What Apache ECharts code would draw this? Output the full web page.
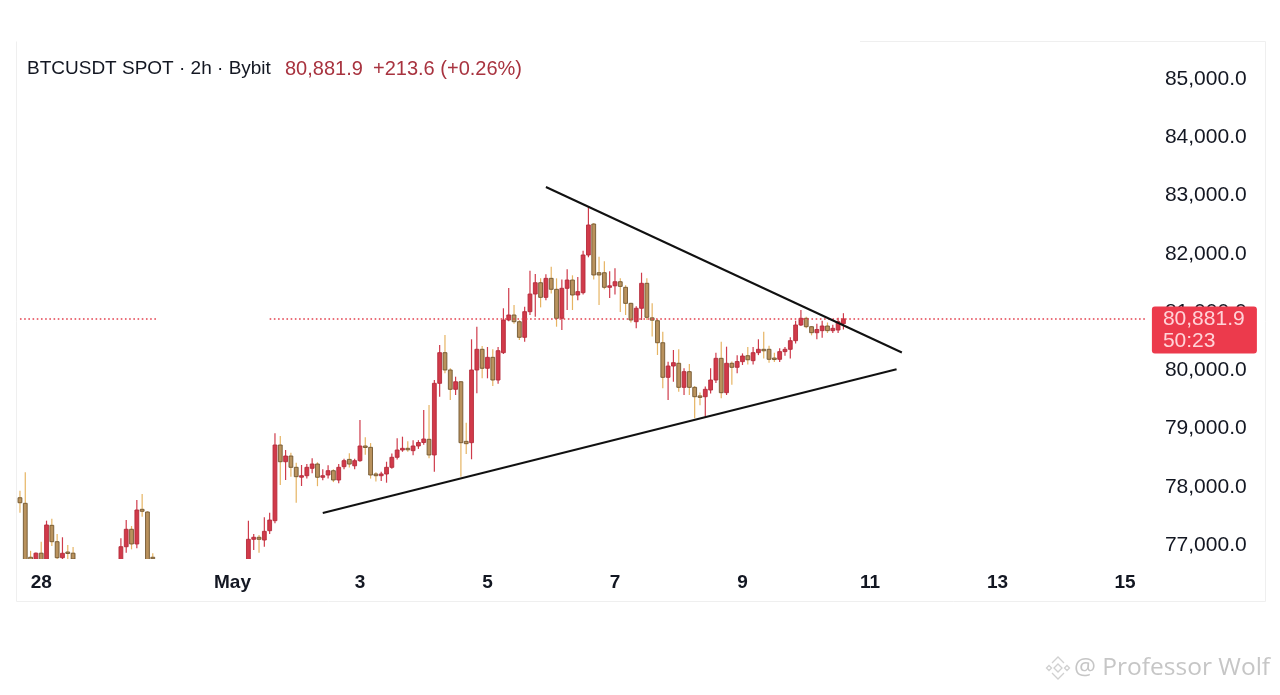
<!DOCTYPE html>
<html>
<head>
<meta charset="utf-8">
<script src="https://cdn.jsdelivr.net/npm/echarts@6/dist/echarts.min.js"></script>
<style>
html,body{margin:0;padding:0;background:#fff;}
#chart{width:1280px;height:695px;}
</style>
</head>
<body>
<div id="chart"></div>
<script>
const _ = null;
// 2h slots starting Apr 27 16:00
const START_UTC = Date.UTC(2026, 3, 27, 16);
const SLOT_COUNT = 213;
const tickLabels = {'4-28 0':'28','5-1 0':'May','5-3 0':'3','5-5 0':'5','5-7 0':'7','5-9 0':'9','5-11 0':'11','5-13 0':'13','5-15 0':'15'};
const yTickValues = [77000, 78000, 79000, 80000, 81000, 82000, 83000, 84000, 85000];

const opens = [77812,77716,76790,76720,76860,76700,77338,77057,76782,76880,76860,
  _,_,_,_,_,_,_,_,
  76700,76971,77270,77018,77613,77567,76790,
  _,_,_,_,_,_,_,_,_,_,_,_,_,_,_,_,_,
  76700,77098,77133,77086,77246,77418,78717,78430,78528,78334,78173,78190,78317,78391,78163,78202,78276,78116,78345,78470,78360,78448,78700,78677,78220,78190,78219,78334,78506,78631,78660,78620,78700,78760,78815,78546,
  79776,80302,80005,79673,79803,78780,78757,80005,80360,80034,80222,79833,80302,80863,80949,80834,80566,81006,81309,81503,81252,81578,81390,80892,81407,81549,81292,81332,81979,82511,81675,81675,81424,81450,81520,81424,81149,80834,81064,81493,80900,80851,80473,79879,80073,80120,79707,79976,79707,79560,79546,79661,79833,80205,79615,80120,80051,80148,80250,80165,80302,80360,80360,80210,80188,80320,80360,80508,80777,80892,80748,80645,80680,80760,80680,80691,80800];
const highs = [77932,78248,76900,76870,77057,77418,77452,77190,77133,77000,76966,
  _,_,_,_,_,_,_,_,
  77116,77429,77326,77773,77876,77580,76860,
  _,_,_,_,_,_,_,_,_,_,_,_,_,_,_,_,_,
  77417,77189,77170,77476,77555,78918,78871,78631,78586,78413,78374,78390,78489,78420,78300,78370,78300,78390,78480,78574,78480,79146,78850,78750,78250,78260,78430,78570,78832,78860,78780,78800,78800,79318,79404,79833,
  80434,80606,80034,79890,79810,79100,80532,80748,80417,80400,80360,80400,81064,81412,81120,80860,81092,81710,81652,81580,81650,81778,81578,81560,81733,81630,81600,82052,82809,82530,81950,81870,81700,81750,81580,81460,81160,81100,81675,81580,81150,80880,80662,80147,80348,80360,80034,80108,79730,79620,79720,80034,80302,80490,80405,80150,80260,80290,80400,80400,80532,80662,80420,80300,80380,80400,80566,80851,81035,80920,80760,80800,80850,80820,80780,80900,80980];
const lows = [77555,76600,76650,76650,76650,76600,76983,76740,76750,76750,76700,
  _,_,_,_,_,_,_,_,
  76650,76868,76926,76944,77486,76600,76700,
  _,_,_,_,_,_,_,_,_,_,_,_,_,_,_,_,_,
  76600,76914,76868,76971,77189,77373,78030,78116,78173,77726,78013,78140,78230,78010,78110,78140,78080,78060,78300,78330,78300,78430,78550,78140,78090,78100,78070,78310,78470,78600,78600,78540,78650,78720,78490,78260,
  79546,79948,79489,79575,78173,78562,78472,79605,79862,79862,79730,79770,80280,80840,80800,80520,80490,80950,80920,81080,81200,81320,80748,80691,81035,81035,81200,81300,81940,81560,81120,81390,81240,81300,81000,80950,80820,80720,80863,80863,80580,80262,79690,79489,79803,79632,79575,79575,79175,79400,79204,79600,79780,79518,79575,79750,79950,80090,80100,80100,80260,80200,80130,80140,80140,80250,80200,80460,80760,80720,80600,80532,80560,80640,80640,80640,80700];
const closes = [77726,76700,76740,76860,76720,77344,77057,76782,76858,76860,76760,
  _,_,_,_,_,_,_,_,
  76971,77270,77018,77601,77579,76700,76770,
  _,_,_,_,_,_,_,_,_,_,_,_,_,_,_,_,_,
  77098,77133,77098,77235,77429,78717,78430,78528,78334,78173,78190,78334,78391,78163,78190,78276,78116,78334,78448,78390,78448,78700,78680,78202,78190,78220,78334,78506,78631,78660,78640,78700,78760,78820,78546,79776,
  80302,80005,79673,79803,78757,78740,80005,80360,80034,80222,79833,80336,80863,80949,80834,80566,81006,81309,81503,81252,81578,81390,80892,81407,81549,81292,81350,81979,82494,81636,81636,81424,81450,81520,81440,81149,80863,81064,81493,80909,80860,80473,79879,80073,80130,79707,79976,79707,79546,79540,79673,79833,80205,79615,80120,80051,80150,80245,80180,80302,80360,80340,80188,80188,80320,80360,80508,80777,80892,80748,80645,80700,80760,80680,80720,80834,80881.9];

// trend lines: [slot index, price]
const upperTrend = [[99, 83146], [166, 80305]];
const lowerTrend = [[57, 77550], [165, 80016]];
const lastPrice = 80881.9;
const markerPrice = 77657.9;
// visible spans of the dotted last-price line (slot indexes)
const priceLineSpans = [[0, 26], [47, 212]];
const header = {symbol: 'BTCUSDT SPOT · 2h · Bybit', price: '80,881.9', change: '+213.6 (+0.26%)'};
const countdown = '50:23';

const categories = [];
for (let i = 0; i < SLOT_COUNT; i++) {
  const d = new Date(START_UTC + i * 7200000);
  categories.push((d.getUTCMonth() + 1) + '-' + d.getUTCDate() + ' ' + d.getUTCHours());
}
const candleData = [];
opens.forEach((o, i) => { if (o != null) candleData.push([i, o, closes[i], lows[i], highs[i]]); });

const fmt = v => Number(v).toLocaleString('en-US', {minimumFractionDigits: 1, maximumFractionDigits: 1});
const FONT = 'Liberation Sans, Arial, sans-serif';

const UP_FILL = '#d13a4a', UP_EDGE = '#b42b3b', UP_WICK = '#cf3b4b';
const DN_FILL = '#b9925d', DN_EDGE = '#72562f', DN_WICK = '#e6b463';

function renderCandle(params, api) {
  const x = api.value(0), o = api.value(1), c = api.value(2), l = api.value(3), h = api.value(4);
  const pO = api.coord([x, o]), pC = api.coord([x, c]), pL = api.coord([x, l]), pH = api.coord([x, h]);
  const bw = api.size([1, 0])[0] * 0.72;
  const up = c >= o;
  const top = Math.min(pO[1], pC[1]), bot = Math.max(pO[1], pC[1]);
  return {
    type: 'group',
    children: [
      {type: 'line', shape: {x1: pH[0], y1: pH[1], x2: pL[0], y2: pL[1]}, style: {stroke: up ? UP_WICK : DN_WICK, lineWidth: 1.2}},
      {type: 'rect', shape: {x: pO[0] - bw / 2, y: top, width: bw, height: Math.max(bot - top, 1.5)},
       style: {fill: up ? UP_FILL : DN_FILL, stroke: up ? UP_EDGE : DN_EDGE, lineWidth: 0.9}}
    ]
  };
}

const GRID = {left: 17.3, right: 131.1, top: 40, bottom: 136};
const chart = echarts.init(document.getElementById('chart'));
const priceLineData = priceLineSpans.map(s => [
  {coord: [s[0], lastPrice]},
  {coord: [s[1], lastPrice]}
]);
priceLineData.push({yAxis: markerPrice, lineStyle: {opacity: 0}, label: {
  show: true, position: 'end', distance: 3,
  formatter: () => fmt(markerPrice),
  backgroundColor: '#1f9a80', color: '#d2f7ee', fontSize: 21,
  fontFamily: FONT,
  padding: [2, 10, 1, 10], lineHeight: 20, borderRadius: 2
}});

const option = {
  backgroundColor: '#ffffff',
  animation: false,
  grid: GRID,
  xAxis: {
    type: 'category',
    data: categories,
    boundaryGap: true,
    axisLine: {show: false},
    axisTick: {show: false},
    splitLine: {show: false},
    axisLabel: {
      interval: (idx, val) => tickLabels[val] !== undefined,
      formatter: val => tickLabels[val] || '',
      color: '#131722', fontSize: 19, fontWeight: 'bold', fontFamily: FONT,
      margin: 14
    }
  },
  yAxis: {
    type: 'value',
    position: 'right',
    min: 76760, max: 85670,
    minInterval: 1000, maxInterval: 1000,
    axisLine: {show: false},
    axisTick: {show: false},
    splitLine: {show: false},
    axisLabel: {
      showMinLabel: false, showMaxLabel: false,
      formatter: v => (yTickValues.indexOf(v) >= 0 ? fmt(v) : ''),
      color: '#131722', fontSize: 21, fontFamily: FONT,
      margin: 16
    }
  },
  series: [
    {
      type: 'custom',
      renderItem: renderCandle,
      data: candleData,
      encode: {x: 0, y: [1, 2, 3, 4]},
      clip: true,
      z: 3
    },
    {
      type: 'line', data: upperTrend, symbol: 'none', silent: true,
      lineStyle: {color: '#111111', width: 2}, z: 5,
      markLine: {
        symbol: ['none', 'none'], silent: true, animation: false,
        lineStyle: {color: '#e3404e', type: [1.6, 2.6], width: 1.5},
        label: {show: false},
        data: priceLineData
      }
    },
    {
      type: 'line', data: lowerTrend, symbol: 'none', silent: true,
      lineStyle: {color: '#111111', width: 2}, z: 5
    }
  ]
};
chart.setOption(option);

const yLast = chart.convertToPixel({yAxisIndex: 0}, lastPrice);
const boxX = 1280 - GRID.right + 3;
chart.setOption({
  graphic: [
    {type: 'polyline', silent: true, z: 0,
     shape: {points: [[16.5, 41.5], [16.5, 601.5], [1265.5, 601.5], [1265.5, 41.5], [860, 41.5]]},
     style: {stroke: '#efefef', lineWidth: 1, fill: null}},
    {type: 'text', left: 27, top: 59, z: 10,
     style: {text: header.symbol, fill: '#131722', fontSize: 19, fontWeight: 500, fontFamily: FONT}},
    {type: 'text', left: 285, top: 59, z: 10,
     style: {text: header.price, fill: '#a8333f', fontSize: 20, fontFamily: FONT}},
    {type: 'text', left: 373, top: 59, z: 10,
     style: {text: header.change, fill: '#a8333f', fontSize: 20, fontFamily: FONT}},
    {type: 'rect', z: 20, shape: {x: boxX, y: yLast - 12.5, width: 105, height: 47, r: 3}, style: {fill: '#ec3a4c'}},
    {type: 'text', z: 21, x: boxX + 11, y: yLast,
     style: {text: fmt(lastPrice), fill: '#ffd3d8', fontSize: 21, fontFamily: FONT, verticalAlign: 'middle'}},
    {type: 'text', z: 21, x: boxX + 11, y: yLast + 22,
     style: {text: countdown, fill: '#ffd3d8', fontSize: 21, fontFamily: FONT, verticalAlign: 'middle'}},
    {type: 'group', z: 10, x: 1058, y: 668, children: [
      {type: 'polygon', shape: {points: [[0, -4], [4, 0], [0, 4], [-4, 0]]}, style: {fill: null, stroke: '#d0d0d0', lineWidth: 1.3}},
      {type: 'polygon', shape: {points: [[-9, -2.5], [-6.5, 0], [-9, 2.5], [-11.5, 0]]}, style: {fill: null, stroke: '#d0d0d0', lineWidth: 1.3}},
      {type: 'polygon', shape: {points: [[9, -2.5], [11.5, 0], [9, 2.5], [6.5, 0]]}, style: {fill: null, stroke: '#d0d0d0', lineWidth: 1.3}},
      {type: 'polyline', shape: {points: [[-6, -5], [0, -11], [6, -5]]}, style: {fill: null, stroke: '#d0d0d0', lineWidth: 1.3}},
      {type: 'polyline', shape: {points: [[-6, 5], [0, 11], [6, 5]]}, style: {fill: null, stroke: '#d0d0d0', lineWidth: 1.3}}
    ]},
    {type: 'text', z: 10, x: 1074, y: 668,
     style: {text: '@ Professor Wolf', fill: '#c6c6c6', fontSize: 24.5, fontFamily: 'Open Sans, sans-serif', verticalAlign: 'middle'}}
  ]
});
</script>
</body>
</html>
